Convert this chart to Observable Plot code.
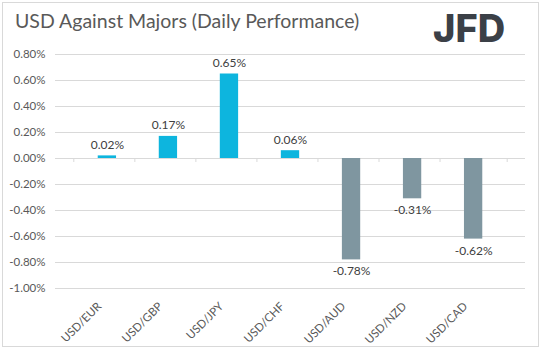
<!DOCTYPE html>
<html>
<head>
<meta charset="utf-8">
<script src="https://cdn.jsdelivr.net/npm/d3@7"></script>
<script src="https://cdn.jsdelivr.net/npm/@observablehq/plot@0.6"></script>
<style>
  html, body { margin: 0; padding: 0; background: #fff; }
  #wrap { position: relative; width: 543px; height: 351px; overflow: hidden; font-family: Lato, "Open Sans", sans-serif; }
  #frame { position: absolute; left: 2px; top: 2px; width: 537px; height: 345px; border: 1px solid #d9d9d9; box-sizing: border-box; }
  #title { position: absolute; left: 15px; top: 9px; font-size: 19.5px; color: #595959; white-space: nowrap; }
  #logo { position: absolute; left: 433px; top: 5px; font-family: Inter, Roboto, sans-serif; font-weight: 800; font-size: 38px; letter-spacing: 0px; color: #3b4047; }
  #chart { position: absolute; left: 0; top: 0; }
</style>
</head>
<body>
<div id="wrap">
  <div id="frame"></div>
  <div id="title">USD Against Majors (Daily Performance)</div>
  <div id="logo">JFD</div>
  <div id="chart"></div>
</div>
<script>
const pairs = ["USD/EUR", "USD/GBP", "USD/JPY", "USD/CHF", "USD/AUD", "USD/NZD", "USD/CAD"];
const changes = [0.02, 0.17, 0.65, 0.06, -0.78, -0.31, -0.62];
const yTicks = [0.8, 0.6, 0.4, 0.2, 0.0, -0.2, -0.4, -0.6, -0.8, -1.0];

const data = pairs.map((p, i) => ({pair: p, value: changes[i]}));
const W = 543, H = 351, ML = 55, MR = 18, MT = 54, MB = 63;
const step = (W - ML - MR) / pairs.length;
const fmt = v => v.toFixed(2) + "%";
const posColor = "#0db5de", negColor = "#7f96a0";

const chart = Plot.plot({
  width: W, height: H,
  marginLeft: ML, marginRight: MR, marginTop: MT, marginBottom: MB,
  style: {fontFamily: "Lato, 'Open Sans', sans-serif", fontSize: "11px", color: "#595959", background: "transparent"},
  x: {domain: pairs, padding: 0.7, label: null, round: false},
  y: {domain: [-1.0, 0.8], label: null},
  marks: [
    Plot.ruleY(yTicks, {stroke: "#d9d9d9", strokeWidth: 1}),
    Plot.axisY({ticks: yTicks, tickFormat: fmt, tickSize: 0, tickPadding: 10, label: null, fill: "#595959", fontSize: 11.5}),
    Plot.axisX({tickSize: 0, tickRotate: -45, tickPadding: 12, dx: -8, dy: 4, label: null, fill: "#595959", fontSize: 11.5}),
    Plot.barY(data, {x: "pair", y: "value", fill: d => d.value >= 0 ? posColor : negColor}),
    Plot.ruleX(pairs, {x: d => d, dx: -step / 2, y1: 0, y2: 0, insetBottom: -4, stroke: "#d9d9d9"}),
    Plot.ruleX(pairs.slice(-1), {x: d => d, dx: step / 2, y1: 0, y2: 0, insetBottom: -4, stroke: "#d9d9d9"}),
    Plot.text(data.filter(d => d.value >= 0), {x: "pair", y: "value", text: d => fmt(d.value), lineAnchor: "bottom", dy: -7, fill: "#404040", fontSize: 12}),
    Plot.text(data.filter(d => d.value < 0), {x: "pair", y: "value", text: d => fmt(d.value), lineAnchor: "top", dy: 7, fill: "#404040", fontSize: 12})
  ]
});
document.getElementById("chart").appendChild(chart);
</script>
</body>
</html>
